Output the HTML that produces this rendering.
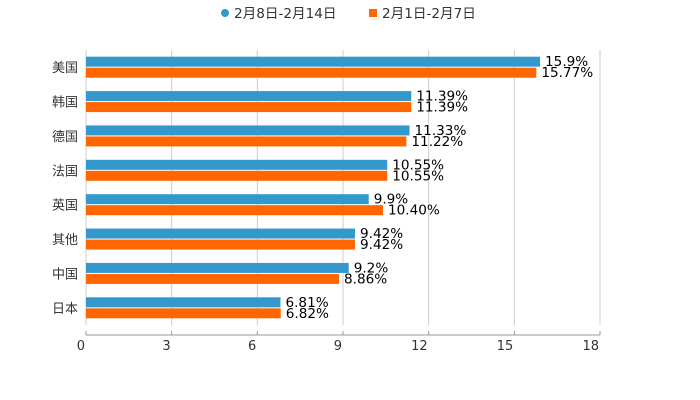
<!DOCTYPE html>
<html><head><meta charset="utf-8"><style>
body{margin:0;background:#fff;}
svg{display:block;font-family:"DejaVu Sans","Noto Sans CJK SC",sans-serif;}
</style></head><body>
<svg id="chart" width="700" height="400">
<g>
<g><circle cx="225" cy="13" r="4" fill="#3399cc"/><text x="234" y="18" font-size="13.6" fill="#333">2月8日-2月14日</text></g>
<g><rect x="369" y="9" width="8" height="8" fill="#ff6600"/><text x="382" y="18" font-size="13.6" fill="#333">2月1日-2月7日</text></g>
</g>
<g id="grid"></g>
<g id="bars"></g>
<g id="axis"></g>
</svg>
<script>
const categories=["美国","韩国","德国","法国","英国","其他","中国","日本"];
const seriesA=[15.9,11.39,11.33,10.55,9.9,9.42,9.2,6.81];
const seriesB=[15.77,11.39,11.22,10.55,10.40,9.42,8.86,6.82];
const labelsA=["15.9%","11.39%","11.33%","10.55%","9.9%","9.42%","9.2%","6.81%"];
const labelsB=["15.77%","11.39%","11.22%","10.55%","10.40%","9.42%","8.86%","6.82%"];
const ticks=[0,3,6,9,12,15,18];
const NS="http://www.w3.org/2000/svg";
const x0=86,x1=600,plotTop=50,plotBottom=325,maxV=18;
const band=(plotBottom-plotTop)/categories.length;
const xs=v=>x0+(x1-x0)*v/maxV;
function mk(t,a,p){const e=document.createElementNS(NS,t);for(const k in a)e.setAttribute(k,a[k]);p.appendChild(e);return e;}
const grid=document.getElementById('grid'),bars=document.getElementById('bars'),axis=document.getElementById('axis');
ticks.forEach(t=>{
 if(t>0){const g=mk('line',{x1:xs(t),x2:xs(t),y1:plotTop,y2:plotBottom,stroke:'#ccc','stroke-width':1},grid);
 
 }
 const tk=mk('line',{x1:xs(t),x2:xs(t),y1:331,y2:335,stroke:'#999'},axis);
 
 
 const tl=mk('text',{x:xs(t)-1,y:350,'text-anchor':'end','font-size':13,fill:'#333'},axis);
 tl.textContent=t;
 
 
});
const al=mk('line',{x1:x0,x2:x1,y1:335,y2:335,stroke:'#999'},axis);


const yl=mk('line',{x1:x0,x2:x0,y1:plotTop,y2:plotBottom,stroke:'#ccc'},grid);


categories.forEach((c,i)=>{
 const cy=plotTop+band*i+band/2;
 const cl=mk('text',{x:78,y:cy+5,'text-anchor':'end','font-size':13,fill:'#333'},axis);
 cl.textContent=c;
 
 
 const ba=mk('rect',{x:x0,y:cy-10.5,width:xs(seriesA[i])-x0,height:10,fill:'#3399cc'},bars);
 
 
 const bb=mk('rect',{x:x0,y:cy+0.5,width:xs(seriesB[i])-x0,height:10,fill:'#ff6600'},bars);
 
 
 const la=mk('text',{x:xs(seriesA[i])+5,y:cy-1,'font-size':13.6,fill:'#000'},bars);
 la.textContent=labelsA[i];
 
 
 const lb=mk('text',{x:xs(seriesB[i])+5,y:cy+10,'font-size':13.6,fill:'#000'},bars);
 lb.textContent=labelsB[i];
 
 
});
</script>
</body></html>
